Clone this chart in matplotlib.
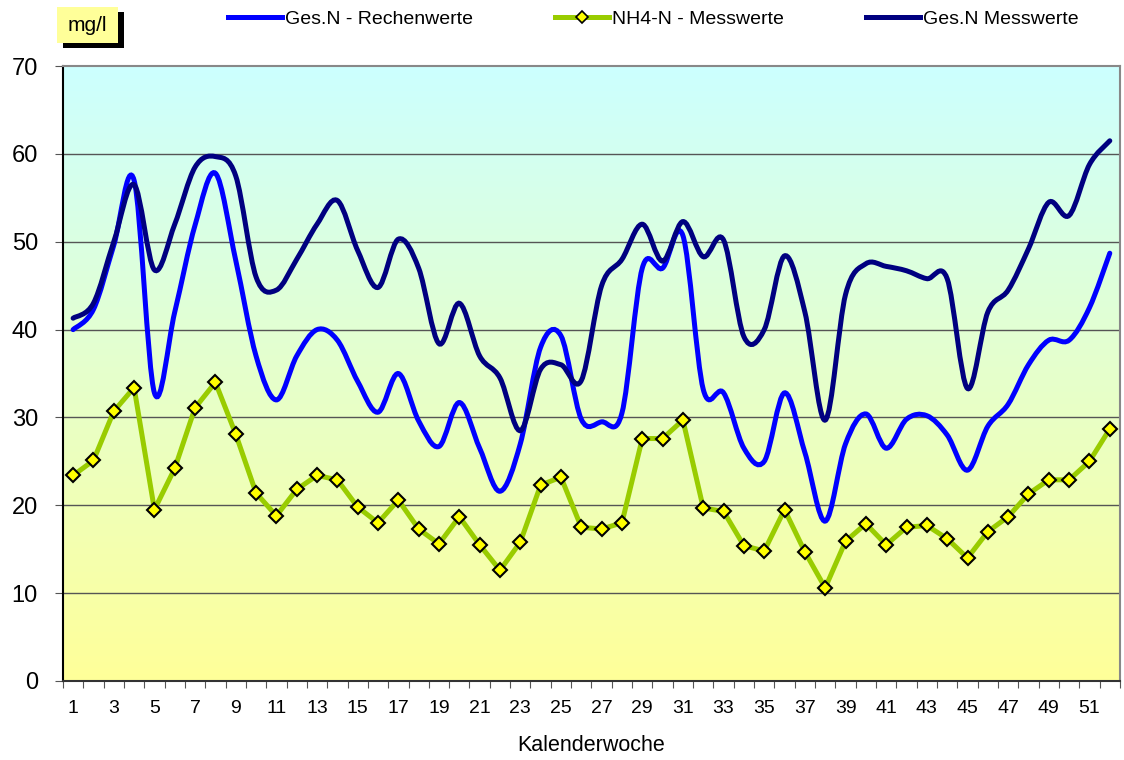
import numpy as np
import matplotlib
matplotlib.use("Agg")
import matplotlib.pyplot as plt
from matplotlib.path import Path
from matplotlib.patches import PathPatch, Rectangle
from matplotlib.lines import Line2D

plt.rcParams["font.family"] = ["Liberation Sans", "DejaVu Sans"]

weeks = list(range(1, 53))
ges_n_rechen = [40.0, 42.3, 49.6, 57.0, 32.8, 42.0, 51.9, 57.8, 47.9, 37.0,
                32.0, 37.0, 40.0, 38.8, 34.1, 30.6, 35.0, 29.6, 26.7, 31.7,
                26.5, 21.6, 27.0, 38.0, 39.3, 29.8, 29.5, 30.5, 47.0, 47.0,
                50.7, 33.2, 32.8, 26.5, 25.0, 32.8, 26.0, 18.2, 27.0, 30.4,
                26.5, 29.8, 30.2, 28.0, 24.0, 29.0, 31.5, 36.0, 38.8, 38.8,
                42.5, 48.7]
nh4_mess = [23.4, 25.1, 30.7, 33.4, 19.5, 24.2, 31.1, 34.0, 28.1, 21.4,
            18.8, 21.8, 23.4, 22.9, 19.8, 18.0, 20.6, 17.3, 15.6, 18.7,
            15.5, 12.6, 15.8, 22.3, 23.2, 17.5, 17.3, 18.0, 27.6, 27.6,
            29.7, 19.7, 19.3, 15.4, 14.8, 19.5, 14.7, 10.6, 15.9, 17.9,
            15.5, 17.5, 17.7, 16.2, 14.0, 17.0, 18.7, 21.3, 22.9, 22.9,
            25.0, 28.7]
ges_n_mess = [41.3, 43.0, 50.0, 56.5, 46.8, 52.0, 58.5, 59.7, 57.5, 46.0,
              44.5, 48.0, 52.0, 54.7, 49.0, 44.8, 50.3, 47.0, 38.4, 43.0,
              37.0, 34.5, 28.5, 35.5, 36.0, 34.2, 45.0, 48.0, 52.0, 47.8,
              52.3, 48.3, 50.2, 39.2, 40.0, 48.4, 42.0, 29.7, 44.0, 47.5,
              47.2, 46.7, 45.8, 45.8, 33.3, 42.0, 44.5, 49.2, 54.5, 53.0,
              58.8, 61.5]


def smooth_path(x, y):
    # Excel-style smoothed line: cubic Bezier segments drawn by matplotlib
    pts = np.column_stack([x, y]).astype(float)
    n = len(pts)
    verts = [pts[0]]
    codes = [Path.MOVETO]
    for i in range(n - 1):
        p0 = pts[max(i - 1, 0)]
        p1 = pts[i]
        p2 = pts[i + 1]
        p3 = pts[min(i + 2, n - 1)]
        c1 = p1 + (p2 - p0) / 6.0
        c2 = p2 - (p3 - p1) / 6.0
        verts += [c1, c2, p2]
        codes += [Path.CURVE4] * 3
    return Path(verts, codes)


fig = plt.figure(figsize=(11.24, 7.6), dpi=100)
ax = fig.add_axes([0.056, 0.104, 0.9404, 0.809])

# gradient background of the plot area
grad = np.linspace(0, 1, 256).reshape(-1, 1)
top = np.array([0.80, 1.0, 1.0])
bot = np.array([1.0, 1.0, 0.60])
img = top * (1 - grad)[:, :, None] + bot * grad[:, :, None]
ax.imshow(img, extent=(0.5, 52.5, 0, 70), aspect="auto", origin="upper", zorder=0)

ax.set_xlim(0.5, 52.5)
ax.set_ylim(0, 70)

for yv in range(10, 70, 10):
    ax.axhline(yv, color="#555555", lw=1.0, zorder=1)

ax.add_patch(PathPatch(smooth_path(weeks, ges_n_rechen), fill=False,
                       edgecolor="#0000FF", lw=3.6, zorder=3, capstyle="round"))
ax.add_patch(PathPatch(smooth_path(weeks, ges_n_mess), fill=False,
                       edgecolor="#000080", lw=3.6, zorder=3, capstyle="round"))
ax.plot(weeks, nh4_mess, color="#99CC00", lw=3.6, marker="D", ms=7.5,
        mfc="#FFFF00", mec="black", mew=1.5, zorder=4)

# axes styling
for side in ["top", "right"]:
    ax.spines[side].set_color("#888888")
    ax.spines[side].set_linewidth(1.5)
ax.spines["left"].set_color("black")
ax.spines["left"].set_linewidth(1.5)
ax.spines["bottom"].set_color("#333333")
ax.spines["bottom"].set_linewidth(1.5)

ax.set_yticks(range(0, 71, 10))
ax.tick_params(axis="y", labelsize=17, length=6, direction="out", pad=12,
               color="#555555")
ax.set_xticks(np.arange(0.5, 53, 1.0))
ax.set_xticklabels([])
ax.tick_params(axis="x", which="major", length=5, direction="out", color="#555555")
ax.set_xticks(weeks[::2], minor=True)
ax.set_xticklabels([str(w) for w in weeks[::2]], minor=True)
ax.tick_params(axis="x", which="minor", length=0, labelsize=14, pad=14)
ax.set_xlabel("Kalenderwoche", fontsize=15.5, labelpad=13)

# unit box with shadow
fig.patches.append(Rectangle((0.0560, 0.9368), 0.0543, 0.0474, transform=fig.transFigure,
                             facecolor="black", edgecolor="none", zorder=1))
fig.patches.append(Rectangle((0.0507, 0.9434), 0.0543, 0.0474, transform=fig.transFigure,
                             facecolor="#FFFF99", edgecolor="none", zorder=2))
fig.text(0.0778, 0.9660, "mg/l", fontsize=15, ha="center", va="center", zorder=3)

handles = [
    Line2D([], [], color="#0000FF", lw=3.6),
    Line2D([], [], color="#99CC00", lw=3.6, marker="D", ms=6.5, mfc="#FFFF00",
           mec="black", mew=1.2),
    Line2D([], [], color="#000080", lw=3.6),
]
labels = ["Ges.N - Rechenwerte", "NH4-N - Messwerte", "Ges.N Messwerte"]
fig.legend(handles, labels, loc="center left", bbox_to_anchor=(0.187, 0.975),
           ncol=3, frameon=False, fontsize=14, handlelength=2.8,
           handletextpad=0.15, columnspacing=4.2)

fig.savefig("out.png", dpi=100)
